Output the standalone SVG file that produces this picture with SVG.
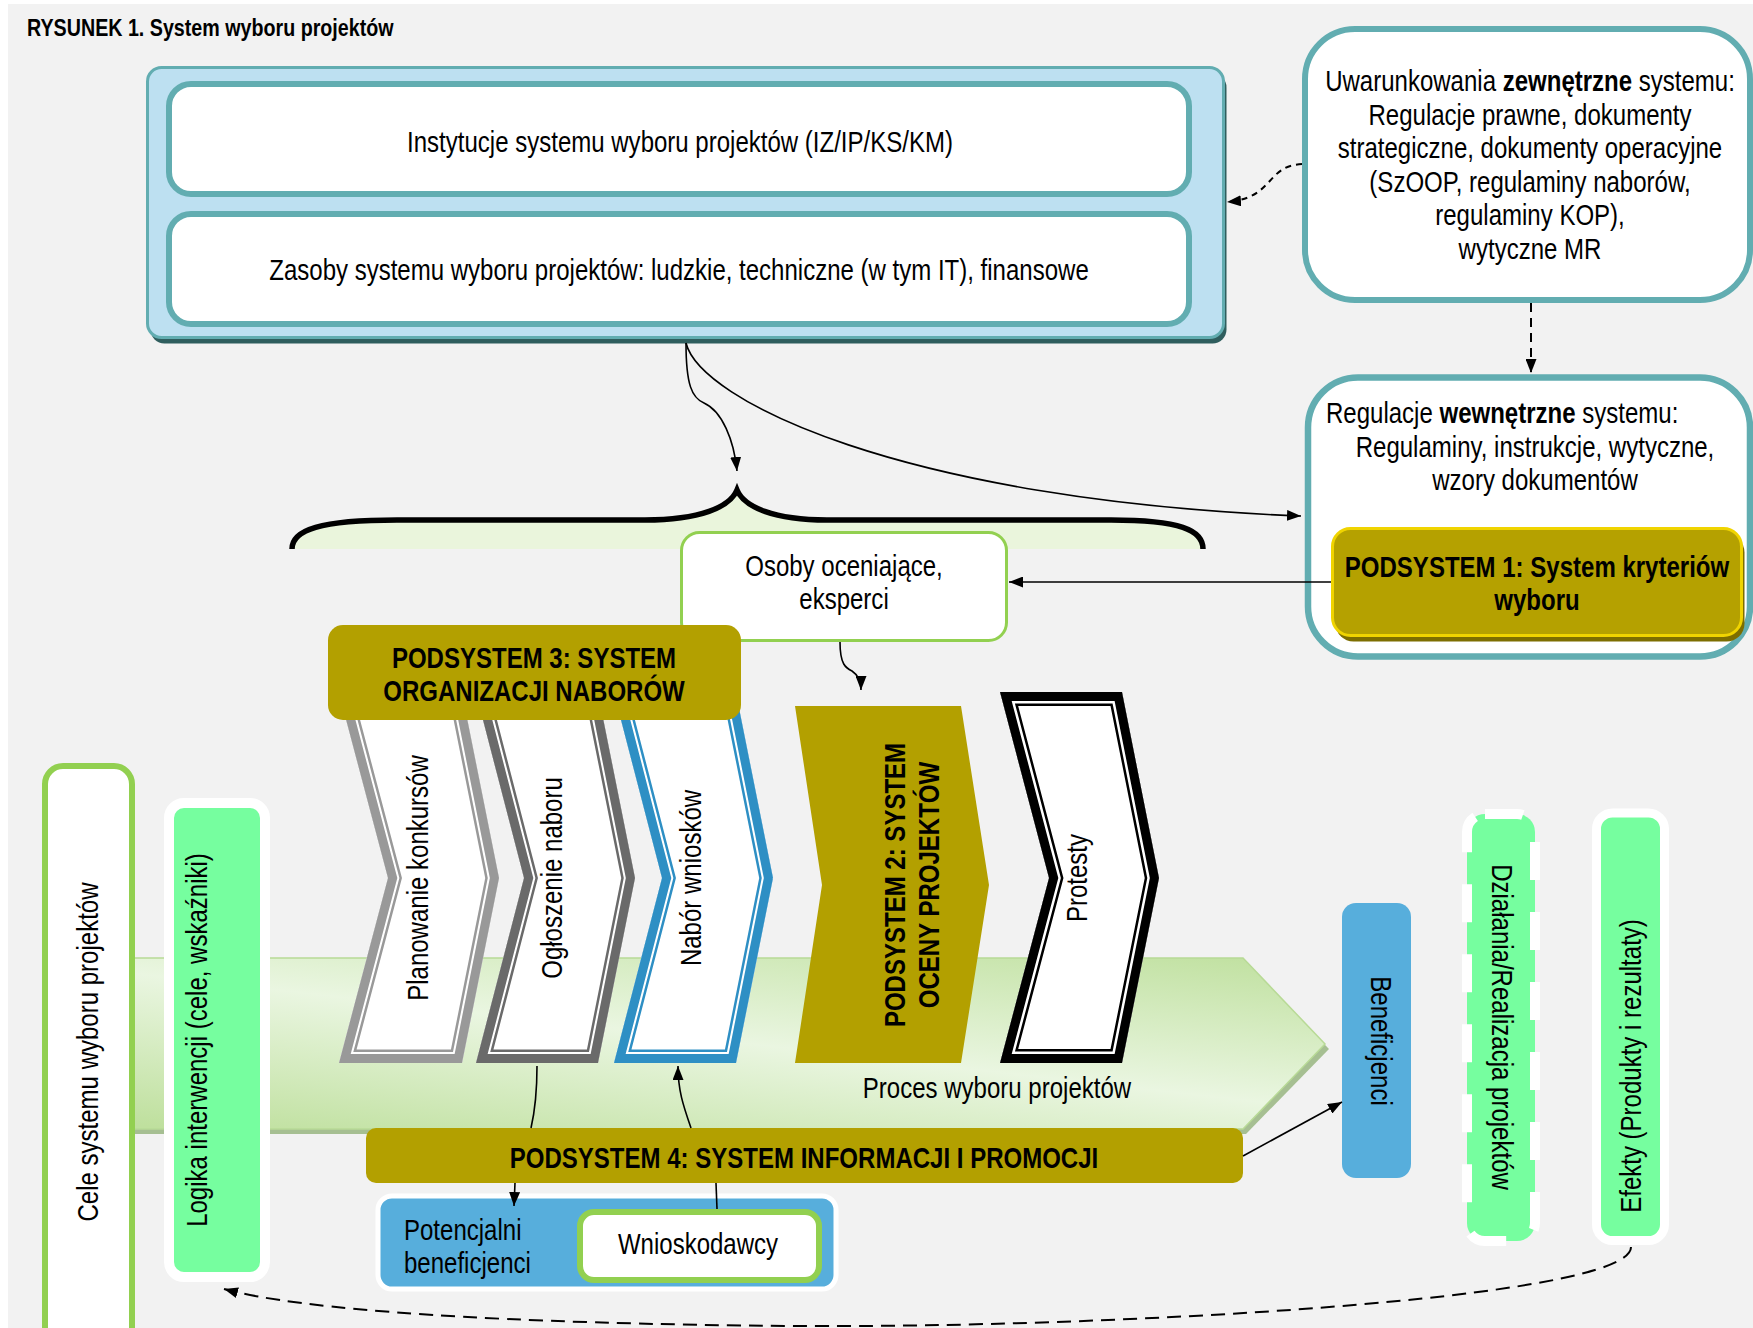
<svg xmlns="http://www.w3.org/2000/svg" width="1753" height="1328" viewBox="0 0 1753 1328">
<style>
.t{font-family:'Liberation Sans',Arial,sans-serif;font-size:29.3px;fill:#000}
.b{font-weight:bold}
.c{text-anchor:middle}
.ln{fill:none;stroke:#000;stroke-width:1.6}
.dl{fill:none;stroke:#000;stroke-width:2}
.olive{fill:#b3a000}
.gf{fill:#76fe9f}
.bl{fill:#57aedc}
</style>
<defs>
<marker id="ah" viewBox="0 0 14 11" refX="14" refY="5.5" markerWidth="14" markerHeight="11" markerUnits="userSpaceOnUse" orient="auto"><path d="M0,0 L14,5.5 L0,11 z" fill="#000"/></marker>
<linearGradient id="band" gradientUnits="userSpaceOnUse" x1="707" y1="888" x2="673" y2="1186">
<stop offset="0" stop-color="#bfe09e"/><stop offset="0.5" stop-color="#eaf6e1"/><stop offset="1" stop-color="#bfe09e"/>
</linearGradient>
<polygon id="ch1" points="339,693 462,693 499,878 462,1063 339,1063 388,878"/>
<polygon id="ch2" points="476,693 598,693 635,878 598,1063 476,1063 524,878"/>
<polygon id="ch3" points="614,693 736,693 773,878 736,1063 614,1063 662,878"/>
<polygon id="ch4" points="1000,692 1122,692 1159,878 1122,1063 1000,1063 1049,878"/>
<clipPath id="k1"><use href="#ch1"/></clipPath>
<clipPath id="k2"><use href="#ch2"/></clipPath>
<clipPath id="k3"><use href="#ch3"/></clipPath>
<clipPath id="k4"><use href="#ch4"/></clipPath>
</defs>
<rect x="0" y="0" width="1753" height="1328" fill="#fff"/>
<rect x="8" y="4" width="1745" height="1324" fill="#f2f2f2"/>
<text class="t b" transform="translate(27,36) scale(0.82,1)" style="font-size:24px">RYSUNEK 1. System wyboru projektów</text>

<g id="top-panel">
<rect x="150.5" y="73.5" width="1076" height="270" rx="14" fill="#2f5e5e"/>
<rect x="147.5" y="67.5" width="1076" height="270" rx="14" fill="#bde0f1" stroke="#62adb1" stroke-width="3"/>
</g>
<g id="instytucje">
<rect x="169" y="84" width="1020" height="110" rx="22" fill="#fff" stroke="#62adb1" stroke-width="6"/>
<text class="t c" transform="translate(680,152) scale(0.82,1)">Instytucje systemu wyboru projektów (IZ/IP/KS/KM)</text>
</g>
<g id="zasoby">
<rect x="169" y="214" width="1020" height="110" rx="22" fill="#fff" stroke="#62adb1" stroke-width="6"/>
<text class="t c" transform="translate(679,280) scale(0.82,1)">Zasoby systemu wyboru projektów: ludzkie, techniczne (w tym IT), finansowe</text>
</g>

<g id="zewnetrzne">
<rect x="1305" y="29" width="445" height="271" rx="50" fill="#fff" stroke="#62adb1" stroke-width="6"/>
<text class="t c" transform="translate(1530,91) scale(0.82,1)">Uwarunkowania <tspan class="b">zewnętrzne</tspan> systemu:</text>
<text class="t c" transform="translate(1530,124.5) scale(0.82,1)">Regulacje prawne, dokumenty</text>
<text class="t c" transform="translate(1530,158) scale(0.82,1)">strategiczne, dokumenty operacyjne</text>
<text class="t c" transform="translate(1530,191.5) scale(0.82,1)">(SzOOP, regulaminy naborów,</text>
<text class="t c" transform="translate(1530,225) scale(0.82,1)">regulaminy KOP),</text>
<text class="t c" transform="translate(1530,258.5) scale(0.82,1)">wytyczne MR</text>
</g>

<g id="wewnetrzne">
<rect x="1308" y="377.5" width="442" height="279" rx="50" fill="#fff" stroke="#62adb1" stroke-width="6.5"/>
<text class="t" transform="translate(1326,423) scale(0.82,1)">Regulacje <tspan class="b">wewnętrzne</tspan> systemu:</text>
<text class="t c" transform="translate(1535,457) scale(0.82,1)">Regulaminy, instrukcje, wytyczne,</text>
<text class="t c" transform="translate(1535,490) scale(0.82,1)">wzory dokumentów</text>
</g>
<g id="podsystem1">
<rect x="1335.5" y="534.5" width="409" height="107" rx="18" fill="#7d6e00"/>
<rect x="1332.5" y="528.5" width="409" height="107" rx="18" fill="#b5a100" stroke="#f0d400" stroke-width="3"/>
<text class="t b c" transform="translate(1537,577) scale(0.82,1)">PODSYSTEM 1: System kryteriów</text>
<text class="t b c" transform="translate(1537,610) scale(0.82,1)">wyboru</text>
</g>

<g id="klamra">
<path d="M292,549 C292,530 320,520 397,520 L645,520 C700,520 730,507 737,490 C744,507 774,520 827,520 L1111,520 C1180,520 1203,530 1203,549" fill="#eaf5dc" stroke="#000" stroke-width="5.5"/>
</g>

<g id="osoby">
<rect x="681.5" y="532.5" width="325" height="108" rx="18" fill="#fff" stroke="#92d050" stroke-width="3"/>
<text class="t c" transform="translate(844,576) scale(0.82,1)">Osoby oceniające,</text>
<text class="t c" transform="translate(844,609) scale(0.82,1)">eksperci</text>
</g>

<g id="proces">
<polygon points="103,963 1246,963 1329,1049 1246,1134 103,1134" fill="#a6bf92"/>
<polygon points="100,958 1243,958 1325,1044 1243,1129 100,1129" fill="url(#band)" stroke="#b8da96" stroke-width="1.5"/>
<text class="t c" transform="translate(997,1098) scale(0.82,1)">Proces wyboru projektów</text>
</g>

<g id="planowanie">
<use href="#ch1" fill="#fff"/>
<g clip-path="url(#k1)" fill="none">
<use href="#ch1" stroke="#999" stroke-width="27"/>
<use href="#ch1" stroke="#fff" stroke-width="22"/>
<use href="#ch1" stroke="#999" stroke-width="18"/>
</g>
<text class="t c" transform="translate(428,878) rotate(-90) scale(0.82,1)">Planowanie konkursów</text>
</g>
<g id="ogloszenie">
<use href="#ch2" fill="#fff"/>
<g clip-path="url(#k2)" fill="none">
<use href="#ch2" stroke="#6a6a6a" stroke-width="27"/>
<use href="#ch2" stroke="#fff" stroke-width="22"/>
<use href="#ch2" stroke="#6a6a6a" stroke-width="18"/>
</g>
<text class="t c" transform="translate(562,878) rotate(-90) scale(0.82,1)">Ogłoszenie naboru</text>
</g>
<g id="nabor">
<use href="#ch3" fill="#fff"/>
<g clip-path="url(#k3)" fill="none">
<use href="#ch3" stroke="#2e8fc4" stroke-width="27"/>
<use href="#ch3" stroke="#fff" stroke-width="22"/>
<use href="#ch3" stroke="#2e8fc4" stroke-width="18"/>
</g>
<text class="t c" transform="translate(701,878) rotate(-90) scale(0.82,1)">Nabór wniosków</text>
</g>

<g id="podsystem3">
<rect x="328" y="625" width="413" height="95" rx="15" class="olive"/>
<text class="t b c" transform="translate(534,668) scale(0.82,1)">PODSYSTEM 3: SYSTEM</text>
<text class="t b c" transform="translate(534,701) scale(0.82,1)">ORGANIZACJI NABORÓW</text>
</g>

<g id="podsystem2">
<polygon points="795,706 961,706 989,885 961,1063 795,1063 822,885" class="olive"/>
<text class="t b c" transform="translate(905,885) rotate(-90) scale(0.82,1)">PODSYSTEM 2: SYSTEM</text>
<text class="t b c" transform="translate(939,885) rotate(-90) scale(0.82,1)">OCENY PROJEKTÓW</text>
</g>

<g id="protesty">
<use href="#ch4" fill="#fff"/>
<g clip-path="url(#k4)" fill="none">
<use href="#ch4" stroke="#000" stroke-width="28"/>
<use href="#ch4" stroke="#fff" stroke-width="23"/>
<use href="#ch4" stroke="#000" stroke-width="18"/>
</g>
<text class="t c" transform="translate(1087,878) rotate(-90) scale(0.82,1)">Protesty</text>
</g>

<g id="cele">
<rect x="45" y="766" width="87" height="600" rx="18" fill="#fff" stroke="#92d050" stroke-width="6"/>
<text class="t c" transform="translate(98,1052) rotate(-90) scale(0.82,1)">Cele systemu wyboru projektów</text>
</g>
<g id="logika">
<rect x="169" y="803" width="96" height="474" rx="15" class="gf" stroke="#fff" stroke-width="10"/>
<text class="t c" transform="translate(207,1040) rotate(-90) scale(0.82,1)">Logika interwencji (cele, wskaźniki)</text>
</g>

<g id="podsystem4">
<rect x="366" y="1128" width="877" height="55" rx="10" class="olive"/>
<text class="t b c" transform="translate(804,1168) scale(0.82,1)">PODSYSTEM 4: SYSTEM INFORMACJI I PROMOCJI</text>
</g>

<g id="potencjalni">
<rect x="378" y="1196" width="458" height="93" rx="14" class="bl" stroke="#fff" stroke-width="5"/>
<text class="t" transform="translate(404,1240) scale(0.82,1)">Potencjalni</text>
<text class="t" transform="translate(404,1273) scale(0.82,1)">beneficjenci</text>
</g>
<g id="wnioskodawcy">
<rect x="580" y="1212" width="239" height="68" rx="14" fill="#fff" stroke="#92d050" stroke-width="6"/>
<text class="t c" transform="translate(698,1254) scale(0.82,1)">Wnioskodawcy</text>
</g>

<g id="beneficjenci">
<rect x="1342" y="903" width="69" height="275" rx="14" class="bl"/>
<text class="t c" transform="translate(1371,1041) rotate(90) scale(0.82,1)">Beneficjenci</text>
</g>
<g id="dzialania">
<rect x="1467" y="814" width="68" height="427" rx="18" class="gf" stroke="#fff" stroke-width="10" stroke-dasharray="38 32"/>
<text class="t c" transform="translate(1492,1027) rotate(90) scale(0.82,1)">Działania/Realizacja projektów</text>
</g>
<g id="efekty">
<rect x="1596.5" y="813" width="68" height="427.5" rx="16" class="gf" stroke="#fff" stroke-width="9"/>
<text class="t c" transform="translate(1641,1066) rotate(-90) scale(0.82,1)">Efekty (Produkty i rezultaty)</text>
</g>

<g id="connectors">
<path class="dl" d="M1302,164 C1265,166 1275,198 1227,202" stroke-dasharray="6 5" marker-end="url(#ah)"/>
<path class="dl" d="M1531,303 L1531,373" stroke-dasharray="9 6" marker-end="url(#ah)"/>
<path class="ln" d="M686,343 C700,400 900,500 1301,516" marker-end="url(#ah)"/>
<path class="ln" d="M686,343 C686,385 692,398 704,403 C722,411 734,440 737,471" marker-end="url(#ah)"/>
<path class="ln" d="M1331,582 L1009,582" marker-end="url(#ah)"/>
<path class="ln" d="M840,642 C840,665 846,668 852,671 C858,675 861,680 861,690" marker-end="url(#ah)"/>
<path class="ln" d="M537,1066 C537,1095 534,1115 531,1128"/>
<path class="ln" d="M515,1183 L514,1206" marker-end="url(#ah)"/>
<path class="ln" d="M717,1209 L716,1183"/>
<path class="ln" d="M691,1128 C683,1105 678,1090 678,1066" marker-end="url(#ah)"/>
<path class="ln" d="M1243,1156 L1342,1102" marker-end="url(#ah)"/>
<path class="dl" d="M1631,1247 C1631,1300 1100,1328 800,1326 C500,1324 300,1310 224,1289" stroke-dasharray="14 8" marker-end="url(#ah)"/>
</g>
</svg>
